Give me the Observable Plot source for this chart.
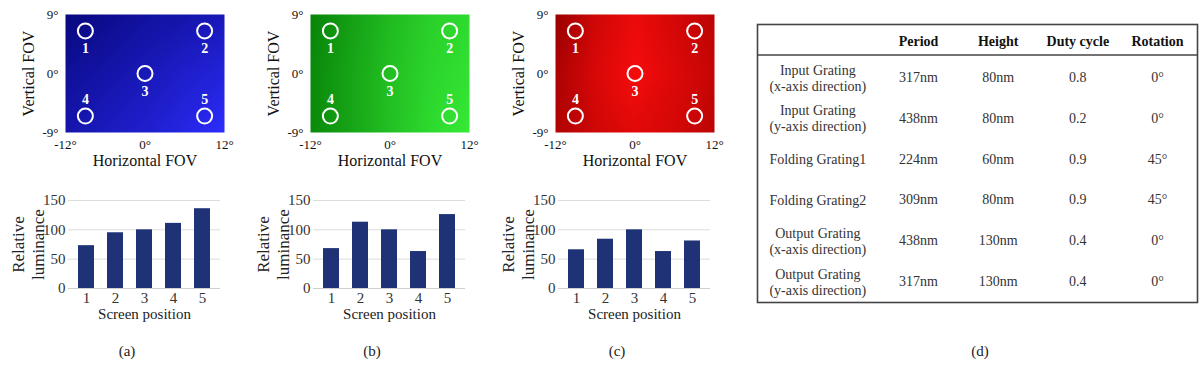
<!DOCTYPE html>
<html>
<head>
<meta charset="utf-8">
<script src="https://cdn.jsdelivr.net/npm/d3@7"></script>
<script src="https://cdn.jsdelivr.net/npm/@observablehq/plot@0.6"></script>
<style>
  html, body { margin: 0; padding: 0; background: #fff; }
  #root { position: relative; width: 1200px; height: 366px; background: #fff; overflow: hidden; }
  .panel { position: absolute; }
  .cap { position: absolute; font-family: "Liberation Serif", serif; font-size: 15px; color: #222; transform: translate(-50%, -50%); }
</style>
</head>
<body>
<div id="root"></div>
<script>
// ---------- data ----------
const gridX = [-12, -6, 0, 6, 12];
const gridY = [9, 0, -9];
// relative intensity (0 = darkest, 1 = brightest)
const blueGrid = [
  [0.00, 0.12, 0.25, 0.35, 0.45],
  [0.20, 0.32, 0.45, 0.60, 0.72],
  [0.35, 0.50, 0.62, 0.80, 1.00]
];
const greenGrid = [
  [0.00, 0.25, 0.50, 0.70, 0.80],
  [0.05, 0.30, 0.55, 0.75, 0.86],
  [0.05, 0.30, 0.56, 0.80, 0.95]
];
const redGrid = [
  [0.00, 0.55, 0.85, 0.60, 0.35],
  [0.20, 0.65, 0.95, 0.70, 0.45],
  [0.25, 0.55, 0.75, 0.60, 0.35]
];
const spotIds = ["1", "2", "3", "4", "5"];
const spotX = [-9, 9, 0, -9, 9];
const spotY = [6.5, 6.5, 0, -6.5, -6.5];

const positions = [1, 2, 3, 4, 5];
const lumBlue = [73, 95, 100, 111, 136];
const lumGreen = [68, 113, 100, 63, 126];
const lumRed = [66, 84, 100, 63, 81];

const tableHeader = ["", "Period", "Height", "Duty cycle", "Rotation"];
const gratings = [
  "Input Grating\n(x-axis direction)",
  "Input Grating\n(y-axis direction)",
  "Folding Grating1",
  "Folding Grating2",
  "Output Grating\n(x-axis direction)",
  "Output Grating\n(y-axis direction)"
];
const periods = ["317nm", "438nm", "224nm", "309nm", "438nm", "317nm"];
const heights = ["80nm", "80nm", "60nm", "80nm", "130nm", "130nm"];
const dutyCycles = [0.8, 0.2, 0.9, 0.9, 0.4, 0.4];
const rotations = ["0°", "0°", "45°", "45°", "0°", "0°"];

const captions = ["(a)", "(b)", "(c)", "(d)"];

// ---------- helpers ----------
const FONT = "Liberation Serif, Times New Roman, serif";
const root = document.getElementById("root");
function place(node, left, top) {
  const d = document.createElement("div");
  d.className = "panel";
  d.style.left = left + "px";
  d.style.top = top + "px";
  d.appendChild(node);
  root.appendChild(d);
}

function heatPanel(grid, colors) {
  const cells = [];
  gridY.forEach((gy, i) => gridX.forEach((gx, j) => cells.push({x: gx, y: gy, v: grid[i][j]})));
  const spots = spotIds.map((id, i) => ({id, x: spotX[i], y: spotY[i]}));
  return Plot.plot({
    width: 245, height: 172,
    marginLeft: 65, marginRight: 21, marginTop: 14, marginBottom: 40,
    style: {fontFamily: FONT, fontSize: "13px", color: "#111", background: "transparent", overflow: "visible"},
    x: {domain: [-12, 12], label: null},
    y: {domain: [-9, 9], label: null},
    color: {type: "linear", domain: [0, 1], range: colors, interpolate: "rgb"},
    marks: [
      Plot.raster(cells, {x: "x", y: "y", fill: "v", x1: -12, x2: 12, y1: -9, y2: 9, interpolate: "barycentric", pixelSize: 1}),
      Plot.dot(spots, {x: "x", y: "y", r: 7.5, stroke: "white", strokeWidth: 2, fill: "none"}),
      Plot.text(spots.filter(d => d.y >= 0), {x: "x", y: "y", text: "id", dy: 18, fill: "white", fontWeight: "bold", fontSize: 14}),
      Plot.text(spots.filter(d => d.y < 0), {x: "x", y: "y", text: "id", dy: -17, fill: "white", fontWeight: "bold", fontSize: 14}),
      Plot.axisX({ticks: [-12, 0, 12], tickFormat: d => `${d}°`, tickSize: 0, tickPadding: 7, label: null}),
      Plot.axisY({ticks: [-9, 0, 9], tickFormat: d => `${d}°`, tickSize: 0, tickPadding: 7, label: null}),
      Plot.text(["Vertical FOV"], {text: d => d, frameAnchor: "left", textAnchor: "middle", lineAnchor: "middle", dx: -37, rotate: -90, fontSize: 16}),
      Plot.text(["Horizontal FOV"], {text: d => d, frameAnchor: "bottom", textAnchor: "middle", lineAnchor: "middle", dy: 28, fontSize: 16})
    ]
  });
}

function barPanel(vals) {
  const data = positions.map((p, i) => ({p, v: vals[i]}));
  return Plot.plot({
    width: 245, height: 140,
    marginLeft: 68, marginRight: 25, marginTop: 20, marginBottom: 32,
    style: {fontFamily: FONT, fontSize: "15px", color: "#333", background: "transparent", overflow: "visible"},
    x: {type: "band", domain: positions, paddingInner: 0.433, paddingOuter: 0.25, label: null},
    y: {domain: [0, 150], label: null},
    marks: [
      Plot.gridY([0, 50, 100, 150], {stroke: "#dcdcdc", strokeOpacity: 1}),
      Plot.ruleY([0], {stroke: "#d0d0d0"}),
      Plot.barY(data, {x: "p", y: "v", fill: "#1f3276"}),
      Plot.axisX({tickSize: 0, tickPadding: 4, label: null}),
      Plot.axisY({ticks: [0, 50, 100, 150], tickSize: 0, tickPadding: 3, label: null}),
      Plot.text(["Relative\nluminance"], {text: d => d, frameAnchor: "left", textAnchor: "middle", lineAnchor: "middle", dx: -41, rotate: -90, fontSize: 17, lineHeight: 1.18, fill: "#222"}),
      Plot.text(["Screen position"], {text: d => d, frameAnchor: "bottom", textAnchor: "middle", lineAnchor: "middle", dy: 26, fontSize: 15, fill: "#222"})
    ]
  });
}

function tablePanel() {
  const header = tableHeader.map((t, c) => ({c, r: 0, t})).filter(d => d.c > 0);
  const names = gratings.map((t, i) => ({c: 0, r: i + 1, t}));
  const body = [];
  gratings.forEach((g, i) => {
    [periods[i], heights[i], String(dutyCycles[i]), rotations[i]].forEach((t, k) => body.push({c: k + 1, r: i + 1, t}));
  });
  return Plot.plot({
    width: 445, height: 282,
    marginLeft: 2, marginRight: 3, marginTop: 2, marginBottom: 2,
    style: {fontFamily: FONT, fontSize: "14px", color: "#333", background: "transparent", overflow: "visible"},
    x: {type: "linear", domain: [1, 4], range: [163, 402], axis: null},
    y: {type: "linear", domain: [1, 6], range: [55, 259], axis: null},
    marks: [
      Plot.frame({stroke: "#444", strokeWidth: 1.6}),
      Plot.ruleY([0.45], {stroke: "#444", strokeWidth: 1.6}),
      Plot.text(header, {x: "c", y: "r", text: "t", dy: 5, fontWeight: "bold", fill: "#111"}),
      Plot.text(names, {x: "c", y: "r", text: "t", dx: -21, lineHeight: 1.15, fill: "#333"}),
      Plot.text(body, {x: "c", y: "r", text: "t", fill: "#333"})
    ]
  });
}

// ---------- layout ----------
place(heatPanel(blueGrid, ["#08087f", "#2d2dff"]), 0, 0);
place(heatPanel(greenGrid, ["#088408", "#38f038"]), 245, 0);
place(heatPanel(redGrid, ["#9a0000", "#fa0c0c"]), 490, 0);

place(barPanel(lumBlue), 0, 180);
place(barPanel(lumGreen), 245, 180);
place(barPanel(lumRed), 490, 180);

place(tablePanel(), 755, 22);

const capX = [127, 372, 617, 980];
captions.forEach((c, i) => {
  const d = document.createElement("div");
  d.className = "cap";
  d.style.left = capX[i] + "px";
  d.style.top = "351px";
  d.textContent = c;
  root.appendChild(d);
});
</script>
</body>
</html>
